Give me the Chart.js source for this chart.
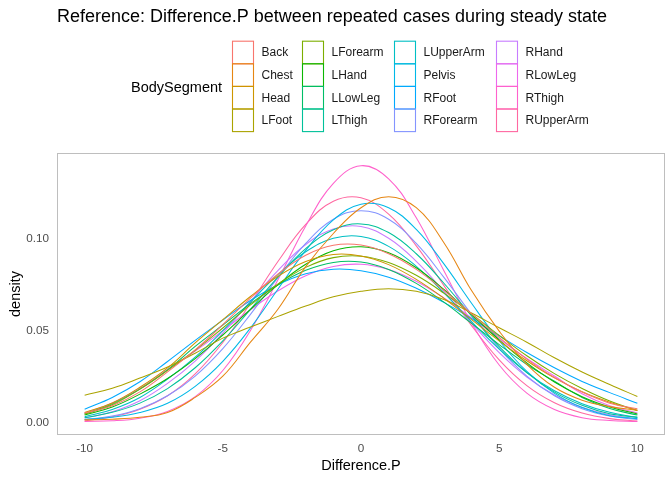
<!DOCTYPE html>
<html>
<head>
<meta charset="utf-8">
<script src="https://cdn.jsdelivr.net/npm/chart.js@4.4.1/dist/chart.umd.min.js"></script>
<style>
  html, body { margin: 0; padding: 0; background: #fff; }
  #wrap { width: 672px; height: 480px; position: relative; }
</style>
</head>
<body>
<div id="wrap"><canvas id="density-chart" width="672" height="480"></canvas></div>
<script>
// x positions of the density estimates
const xValues = [-10, -9, -8, -7, -6, -5, -4, -3, -2, -1, 0, 1, 2, 3, 4, 5, 6, 7, 8, 9, 10];

// density per body segment
const back      = [0.0055,0.0095,0.0170,0.0279,0.0398,0.0535,0.0679,0.0810,0.0912,0.0966,0.0967,0.0920,0.0835,0.0721,0.0594,0.0466,0.0348,0.0248,0.0169,0.0109,0.0078];
const chest     = [0.0018,0.0022,0.0032,0.0058,0.0140,0.0255,0.0440,0.0620,0.0850,0.1030,0.1170,0.1230,0.1170,0.0980,0.0720,0.0500,0.0320,0.0195,0.0125,0.0090,0.0070];
const head      = [0.0058,0.0110,0.0195,0.0300,0.0436,0.0562,0.0688,0.0798,0.0878,0.0916,0.0908,0.0861,0.0781,0.0678,0.0562,0.0447,0.0339,0.0246,0.0171,0.0114,0.0070];
const lFoot     = [0.0152,0.0190,0.0245,0.0305,0.0380,0.0462,0.0522,0.0580,0.0636,0.0686,0.0716,0.0730,0.0716,0.0672,0.0598,0.0518,0.0440,0.0355,0.0278,0.0210,0.0145];
const lForearm  = [0.0050,0.0100,0.0185,0.0287,0.0396,0.0517,0.0642,0.0756,0.0846,0.0899,0.0907,0.0873,0.0803,0.0706,0.0594,0.0477,0.0366,0.0269,0.0188,0.0120,0.0068];
const lHand     = [0.0045,0.0088,0.0158,0.0243,0.0351,0.0479,0.0618,0.0752,0.0863,0.0936,0.0958,0.0925,0.0844,0.0726,0.0590,0.0452,0.0328,0.0224,0.0144,0.0088,0.0050];
const lLowLeg   = [0.0050,0.0105,0.0185,0.0290,0.0417,0.0533,0.0649,0.0752,0.0830,0.0873,0.0875,0.0835,0.0759,0.0657,0.0542,0.0427,0.0319,0.0228,0.0140,0.0080,0.0044];
const lThigh    = [0.0030,0.0059,0.0109,0.0188,0.0301,0.0447,0.0618,0.0794,0.0948,0.1050,0.1082,0.1035,0.0920,0.0760,0.0583,0.0416,0.0275,0.0169,0.0097,0.0051,0.0033];
const lUpperArm = [0.0035,0.0075,0.0140,0.0240,0.0359,0.0502,0.0658,0.0808,0.0931,0.1004,0.1014,0.0960,0.0852,0.0708,0.0551,0.0402,0.0275,0.0176,0.0106,0.0059,0.0031];
const pelvis    = [0.0020,0.0032,0.0058,0.0108,0.0200,0.0336,0.0517,0.0729,0.0938,0.1104,0.1189,0.1170,0.1052,0.0865,0.0651,0.0448,0.0281,0.0162,0.0085,0.0041,0.0025];
const rFoot     = [0.0076,0.0140,0.0225,0.0335,0.0450,0.0560,0.0666,0.0752,0.0811,0.0836,0.0828,0.0793,0.0733,0.0656,0.0568,0.0475,0.0384,0.0301,0.0227,0.0166,0.0108];
const rForearm  = [0.0020,0.0039,0.0079,0.0149,0.0256,0.0405,0.0591,0.0792,0.0976,0.1107,0.1154,0.1107,0.0976,0.0792,0.0591,0.0405,0.0256,0.0149,0.0079,0.0039,0.0020];
const rHand     = [0.0028,0.0062,0.0122,0.0216,0.0337,0.0489,0.0661,0.0830,0.0970,0.1055,0.1068,0.1004,0.0879,0.0716,0.0543,0.0383,0.0251,0.0153,0.0087,0.0046,0.0023];
const rLowLeg   = [0.0055,0.0110,0.0190,0.0292,0.0392,0.0503,0.0616,0.0719,0.0801,0.0851,0.0863,0.0835,0.0771,0.0680,0.0571,0.0458,0.0351,0.0256,0.0160,0.0095,0.0055];
const rThigh    = [0.0010,0.0013,0.0027,0.0064,0.0144,0.0286,0.0503,0.0780,0.1071,0.1302,0.1398,0.1327,0.1115,0.0828,0.0544,0.0316,0.0163,0.0074,0.0030,0.0015,0.0009];
const rUpperArm = [0.0012,0.0035,0.0076,0.0149,0.0268,0.0438,0.0651,0.0879,0.1079,0.1205,0.1224,0.1135,0.0963,0.0747,0.0530,0.0344,0.0204,0.0111,0.0055,0.0025,0.0012];

const segments = ["Back", "Chest", "Head", "LFoot", "LForearm", "LHand", "LLowLeg", "LThigh",
                  "LUpperArm", "Pelvis", "RFoot", "RForearm", "RHand", "RLowLeg", "RThigh", "RUpperArm"];
const series = [back, chest, head, lFoot, lForearm, lHand, lLowLeg, lThigh,
                lUpperArm, pelvis, rFoot, rForearm, rHand, rLowLeg, rThigh, rUpperArm];
// ggplot hue palette for 16 levels
const colors = ["#F8766D", "#E68613", "#CD9600", "#ABA300", "#7CAE00", "#0CB702", "#00BE67", "#00C19A",
                "#00BFC4", "#00B8E7", "#00A9FF", "#8494FF", "#C77CFF", "#ED68ED", "#FF61CC", "#FF68A1"];
const xTicks = [-10, -5, 0, 5, 10];
const yTicks = [0, 0.05, 0.10];

const FONT = "'Liberation Sans', Arial, sans-serif";

// title, legend and panel border drawn by hand (ggplot style)
const ggDecor = {
    id: 'ggDecor',
    beforeDatasetsDraw(chart) {
        const ctx = chart.ctx, a = chart.chartArea;
        ctx.save();
        ctx.strokeStyle = '#BEBEBE';
        ctx.lineWidth = 1;
        ctx.strokeRect(a.left + 0.5, a.top + 0.5, a.right - a.left - 1, a.bottom - a.top - 1);
        ctx.restore();
    },
    afterDraw(chart) {
        const ctx = chart.ctx;
        ctx.save();
        ctx.fillStyle = '#000';
        ctx.textBaseline = 'middle';
        ctx.font = '18px ' + FONT;
        ctx.fillText('Reference: Difference.P between repeated cases during steady state', 57, 17);

        ctx.font = '14.5px ' + FONT;
        ctx.fillText('BodySegment', 131, 87.5);

        const colX = [232, 302, 394, 496];
        const keyW = 21, keyH = 22.6, top = 40.7;
        ctx.font = '12px ' + FONT;
        chart.data.datasets.forEach(function (ds, i) {
            const c = Math.floor(i / 4), r = i % 4;
            const x = colX[c], y = top + r * keyH;
            ctx.strokeStyle = ds.borderColor;
            ctx.lineWidth = 1.1;
            ctx.strokeRect(x + 0.5, y + 0.5, keyW, keyH);
            ctx.fillStyle = '#1a1a1a';
            ctx.fillText(ds.label, x + keyW + 8.5, y + keyH / 2 + 1);
        });
        ctx.restore();
    }
};

new Chart(document.getElementById("density-chart"), {
    type: 'line',
    data: {
        datasets: series.map(function (vals, i) {
            return {
                label: segments[i],
                data: xValues.map(function (x, j) { return { x: x, y: vals[j] }; }),
                borderColor: colors[i],
                backgroundColor: colors[i],
                borderWidth: 1.05,
                pointRadius: 0,
                fill: false,
                tension: 0.4
            };
        })
    },
    options: {
        responsive: false,
        animation: false,
        devicePixelRatio: 1,
        layout: { padding: { top: 153, right: 7, left: 0, bottom: 0 } },
        plugins: {
            legend: { display: false },
            title: { display: false },
            tooltip: { enabled: false }
        },
        scales: {
            x: {
                type: 'linear',
                min: -11,
                max: 11,
                grid: { display: false, drawTicks: false },
                border: { display: false },
                afterBuildTicks: function (scale) { scale.ticks = xTicks.map(function (v) { return { value: v }; }); },
                afterFit: function (scale) { scale.height = 45; },
                ticks: { color: '#4D4D4D', font: { family: FONT, size: 11.7 }, padding: 7, maxRotation: 0 },
                title: { display: true, text: 'Difference.P', color: '#000', font: { family: FONT, size: 14.5 }, padding: { top: 2, bottom: 5 } }
            },
            y: {
                min: -0.0064,
                max: 0.1467,
                grid: { display: false, drawTicks: false },
                border: { display: false },
                afterBuildTicks: function (scale) { scale.ticks = yTicks.map(function (v) { return { value: v }; }); },
                afterFit: function (scale) { scale.width = 57; },
                ticks: {
                    color: '#4D4D4D', font: { family: FONT, size: 11.7 }, padding: 8,
                    callback: function (v) { return v.toFixed(2); }
                },
                title: { display: true, text: 'density', color: '#000', font: { family: FONT, size: 14.5 }, padding: { top: 7, bottom: 2 } }
            }
        }
    },
    plugins: [ggDecor]
});
</script>
</body>
</html>
